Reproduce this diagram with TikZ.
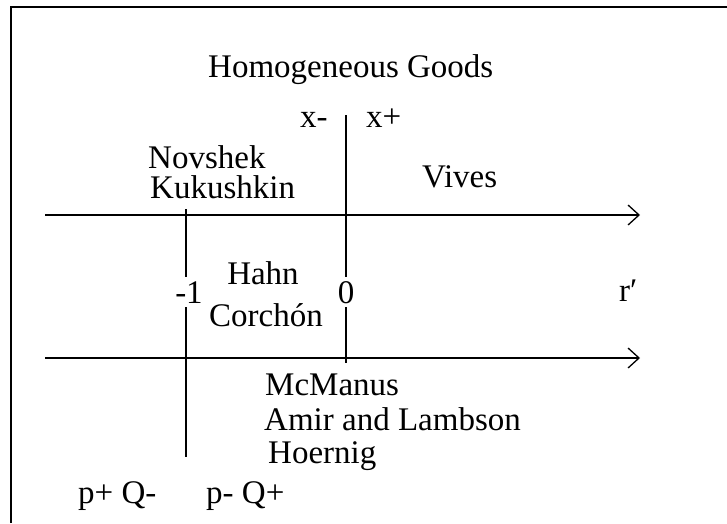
\documentclass[tikz,border=0pt]{standalone}
\usepackage{fontspec}
\setmainfont{Liberation Serif}
\usetikzlibrary{arrows.meta}
\begin{document}
\begin{tikzpicture}[x=1pt,y=-1pt,
  lbl/.style={inner sep=0pt, anchor=base west, font=\fontsize{33}{35}\selectfont},
  lblc/.style={lbl, anchor=base},
  tick/.style={lblc, fill=white, inner xsep=1pt, inner ysep=4pt},
  axis/.style={line width=1.3pt, -{Straight Barb[length=11pt,width=20pt,line width=1.3pt]}},
  rule/.style={line width=1.3pt},
  frame/.style={line width=2pt}]
\useasboundingbox (0,0) rectangle (727,523);
\draw[frame] (11,523) -- (11,7) -- (727,7);
% axes
\coordinate (u0) at (45,215);
\coordinate (u1) at (640,215);
\coordinate (l0) at (45,358);
\coordinate (l1) at (640,358);
\coordinate (z0) at (346,115);
\coordinate (z1) at (346,363);
\coordinate (m0) at (186,209);
\coordinate (m1) at (186,457);
\draw[axis] (u0) -- (u1);
\draw[axis] (l0) -- (l1);
\draw[rule] (z0) -- (z1);
\draw[rule] (m0) -- (m1);
% labels
\node[lbl] (title) at (208,77) {Homogeneous Goods};
\node[lbl] (xm) at (300,127) {x-};
\node[lbl] (xp) at (366,127) {x+};
\node[lbl] (nov) at (148,168) {Novshek};
\node[lbl] (kuk) at (150,198) {Kukushkin};
\node[lbl] (viv) at (422,187) {Vives};
\node[lblc] (hahn) at (263,284) {Hahn};
\node[lblc] (corch) at (266,326) {Corchón};
\node[tick] (mone) at (189,303) {-1};
\node[tick] (zero) at (346,303) {0};
\node[lbl] (rp) at (619,301) {r′};
\node[lbl] (mcm) at (265,395) {McManus};
\node[lbl] (amir) at (264,430) {Amir and Lambson};
\node[lbl] (hoer) at (268,463) {Hoernig};
\node[lbl] (pq1) at (78,503) {p+ Q-};
\node[lbl] (pq2) at (206,503) {p- Q+};
\end{tikzpicture}
\end{document}
